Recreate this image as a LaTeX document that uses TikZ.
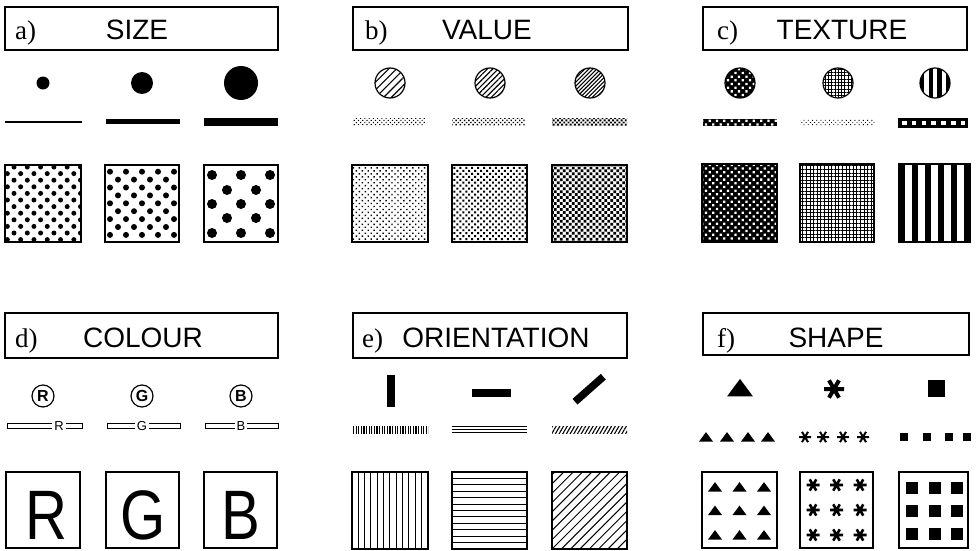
\documentclass[tikz,border=0pt]{standalone}
\usepackage{fontspec}
\setmainfont{Liberation Serif}
\setsansfont{Liberation Sans}
\newfontfamily\narrowsans{Liberation Sans}[FakeStretch=0.83]
\usetikzlibrary{patterns.meta}

\begin{document}
\begin{tikzpicture}[x=1pt, y=-1pt,
  headbox/.style={draw, line width=1.3pt, inner sep=0pt, minimum height=43pt},
  tag/.style={anchor=base west, inner sep=0pt, font=\fontsize{27}{30}\selectfont},
  headline/.style={anchor=base, inner sep=0pt, font=\sffamily\fontsize{28}{30}\selectfont},
  frame/.style={line width=1.5pt},
  ring/.style={line width=1.2pt},
  ringletter/.style={draw, circle, ring, minimum size=22pt, inner sep=0pt,
    font=\sffamily\bfseries\fontsize{16}{16}\selectfont},
  keyletter/.style={fill=white, inner xsep=2pt, inner ysep=0pt,
    font=\sffamily\fontsize{13}{13}\selectfont},
  bigletter/.style={anchor=base, inner sep=0pt, text height=52pt, text depth=0pt,
    font=\narrowsans\fontsize{70}{70}\selectfont},
  tri/.pic={\fill (-#1,0.65*#1) -- (#1,0.65*#1) -- (0,-0.7*#1) -- cycle;},
  asterisk/.pic={\draw (0:#1) -- (180:#1) (60:#1) -- (240:#1) (120:#1) -- (300:#1);},
  blob/.pic={\fill (-#1,-#1) rectangle (#1,#1);}
]
\useasboundingbox (0,0) rectangle (979,551);

% a) size
\begin{scope}[shift={(5,0)}]
  \node[headbox, minimum width=273pt] (sizebox) at (136.5,28.5) {};
  \node[tag] (sizetag) at (10,40) {a)};
  \node[headline] (sizehead) at (132,40) {SIZE};

  % Points and lines
  \fill (38,83) circle (6.5);
  \fill (137,83) circle (11);
  \fill (236,83) circle (17);
  \fill (0,120.5) rectangle (77,123);
  \fill (101,119) rectangle (175,124);
  \fill (199,117.5) rectangle (273,126);

  % Dot screens
  \begin{scope}
    \clip (0,165) rectangle (76,242);
    \foreach \j [evaluate=\j as \dx using {9-6.65*mod(\j,2)}] in {0,...,11}
      \foreach \i in {-1,...,5}
        \fill (\dx+13.3*\i,167+6.6*\j) circle (2.5);
  \end{scope}
  \foreach \x in {105,121,...,169}
    \foreach \y in {171.7,187.5,...,235}
      \fill (\x,\y) circle (3);
  \foreach \x in {113,129,145,161}
    \foreach \y in {179.6,195.4,211.2,227}
      \fill (\x,\y) circle (3);
  \foreach \x in {207,236,265}
    \foreach \y in {175,204,233}
      \fill (\x,\y) circle (5);
  \foreach \x in {222,251}
    \foreach \y in {190,218}
      \fill (\x,\y) circle (5);
  \draw[frame] (0,165) rectangle (76,242);
  \draw[frame] (100,165) rectangle (174,242);
  \draw[frame] (199,165) rectangle (273,242);
\end{scope}

% b) value
\begin{scope}[shift={(352,0)}]
  \node[headbox, minimum width=275pt] (valuebox) at (138.5,28.5) {};
  \node[tag] (valuetag) at (13,40) {b)};
  \node[headline] (valuehead) at (135,40) {VALUE};

  % Hatched points
  \fill[pattern={Lines[angle=45,distance=5.5pt,line width=1.1pt]}] (38,83) circle (15);
  \fill[pattern={Lines[angle=45,distance=3.8pt,line width=1.1pt]}] (138,83) circle (15);
  \fill[pattern={Lines[angle=45,distance=2.8pt,line width=1.1pt]}] (238,83) circle (15);
  \draw[ring] (38,83) circle (15);
  \draw[ring] (138,83) circle (15);
  \draw[ring] (238,83) circle (15);

  % Screened lines
  \fill[pattern={Dots[angle=45,distance=3pt,radius=0.8pt]}] (1,118.5) rectangle (73,125.5);
  \fill[pattern={Dots[angle=45,distance=3pt,radius=1pt]}] (100,118.5) rectangle (173,125.5);
  \fill[pattern={Dots[angle=45,distance=3pt,radius=1.35pt]}] (200,118.5) rectangle (275,125.5);

  % Screened areas
  \fill[pattern={Dots[angle=45,distance=4.2pt,radius=1pt]}] (0,165) rectangle (76,242);
  \fill[pattern={Dots[angle=45,distance=4.2pt,radius=1.4pt]}] (100,165) rectangle (175,242);
  \fill[pattern={Dots[angle=45,distance=4.2pt,radius=1.95pt]}] (200,165) rectangle (275,242);
  \draw[frame] (0,165) rectangle (76,242);
  \draw[frame] (100,165) rectangle (175,242);
  \draw[frame] (200,165) rectangle (275,242);
\end{scope}

% c) texture
\begin{scope}[shift={(702,0)}]
  \node[headbox, minimum width=264pt] (texturebox) at (133,28.5) {};
  \node[tag] (texturetag) at (15,40) {c)};
  \node[headline] (texturehead) at (140,40) {TEXTURE};

  % Textured points
  \fill (38,83) circle (15);
  \fill[pattern={Dots[angle=45,distance=5.2pt,radius=1.6pt]}, pattern color=white] (38,83) circle (15);
  \fill[pattern={Lines[angle=0,distance=3.3pt,line width=0.7pt]}] (136,83) circle (15);
  \fill[pattern={Lines[angle=90,distance=3.3pt,line width=0.7pt]}] (136,83) circle (15);
  \begin{scope}
    \clip (233,83) circle (15);
    \foreach \k in {0,2,4,6}
      \fill (218+4.3*\k,66) rectangle ++(4.3,34);
  \end{scope}
  \draw[ring] (38,83) circle (15);
  \draw[ring] (136,83) circle (15);
  \draw[ring] (233,83) circle (15);

  % Textured lines
  \fill (1,119) rectangle (75,126);
  \fill[pattern={Dots[angle=45,distance=5.2pt,radius=1.6pt]}, pattern color=white] (1,119) rectangle (75,126);
  \fill[pattern={Dots[angle=45,distance=3pt,radius=0.6pt]}] (98,119.5) rectangle (173,125.5);
  \fill (196,117.5) rectangle (266,127.5);
  \foreach \k in {0,...,6}
    \fill[white] (200+9.8*\k,120.5) rectangle ++(4.5,4);

  % Textured areas
  \fill (0,164) rectangle (75,242);
  \fill[pattern={Dots[angle=45,distance=5.2pt,radius=1.6pt]}, pattern color=white] (0,164) rectangle (75,242);
  \fill[pattern={Lines[angle=0,distance=3.6pt,line width=0.7pt]}] (98,164) rectangle (172,242);
  \fill[pattern={Lines[angle=90,distance=3.6pt,line width=0.7pt]}] (98,164) rectangle (172,242);
  \foreach \k in {0,2,...,10}
    \fill (197+6.45*\k,164) rectangle ++(6.45,78);
  \draw[frame] (0,164) rectangle (75,242);
  \draw[frame] (98,164) rectangle (172,242);
  \draw[frame] (197,164) rectangle (268,242);
\end{scope}

% d) colour
\begin{scope}[shift={(5,306)}]
  \node[headbox, minimum width=273pt, minimum height=45pt] (colourbox) at (136.5,29.5) {};
  \node[tag] (colourtag) at (10,41) {d)};
  \node[headline] (colourhead) at (138,41) {COLOUR};

  % Circled letters
  \node[ringletter] (redpt) at (38,90) {R};
  \node[ringletter] (greenpt) at (137,90) {G};
  \node[ringletter] (bluept) at (236,90) {B};

  % Lettered lines
  \draw[line width=1pt] (2,117.5) rectangle (77,122);
  \draw[line width=1pt] (102,117.5) rectangle (175,122);
  \draw[line width=1pt] (200,117.5) rectangle (273,122);
  \node[keyletter] (redln) at (54,119.8) {R};
  \node[keyletter] (greenln) at (137,119.8) {G};
  \node[keyletter] (blueln) at (236,119.8) {B};

  % Lettered areas
  \draw[frame] (1,166) rectangle (75,242);
  \draw[frame] (101,166) rectangle (174,242);
  \draw[frame] (199,166) rectangle (272,242);
  \node[bigletter] (redar) at (41.7,233) {R};
  \node[bigletter] (greenar) at (138,233) {G};
  \node[bigletter] (bluear) at (236,233) {B};
\end{scope}

% e) orientation
\begin{scope}[shift={(352,306)}]
  \node[headbox, minimum width=274pt, minimum height=45pt] (orientbox) at (138,29.5) {};
  \node[tag] (orienttag) at (10,41) {e)};
  \node[headline] (orienthead) at (144,41) {ORIENTATION};

  % Oriented bars
  \draw[line width=8pt] (39,69) -- (39,101);
  \draw[line width=8pt] (120,86.5) -- (159,86.5);
  \draw[line width=7.5pt] (223,95.7) -- (251.3,70.7);

  % Oriented lines
  \fill[pattern={Lines[angle=90,distance=2.6pt,line width=1.1pt]}] (1,120) rectangle (76,127);
  \draw[line width=0.9pt] (100,120) -- (175,120);
  \draw[line width=0.9pt] (100,123.4) -- (175,123.4);
  \draw[line width=0.9pt] (100,126.8) -- (175,126.8);
  \fill[pattern={Lines[angle=60,distance=3.2pt,line width=1.1pt]}] (200,120) rectangle (275,127);

  % Oriented areas
  \foreach \x in {6.3,12.6,...,70}
    \draw[line width=1pt] (\x,166) -- (\x,243);
  \foreach \y in {172.4,178.8,...,238}
    \draw[line width=1pt] (100,\y) -- (175,\y);
  \begin{scope}
    \clip (200,166) rectangle (275,243);
    \foreach \k in {-8,...,8}
      \draw[line width=1pt] (200+9.3*\k,243) -- ++(80,-80);
  \end{scope}
  \draw[frame] (0,166) rectangle (76,243);
  \draw[frame] (100,166) rectangle (175,243);
  \draw[frame] (200,166) rectangle (275,243);
\end{scope}

% f) shape
\begin{scope}[shift={(702,306)}]
  \node[headbox, minimum width=266pt, minimum height=42pt] (shapebox) at (134,28) {};
  \node[tag] (shapetag) at (15,41) {f)};
  \node[headline] (shapehead) at (134,41) {SHAPE};

  % Shaped points
  \pic at (38,82) {tri=13};
  \pic[line width=4pt] at (132,83) {asterisk=10};
  \pic at (234,82.5) {blob=8.5};

  % Shaped lines
  \foreach \x in {4,25,46,66}
    \pic at (\x,131) {tri=7};
  \foreach \x in {103,121,141,161}
    \pic[line width=2pt] at (\x,131) {asterisk=6};
  \foreach \x in {202,225,247,265}
    \pic at (\x,131) {blob=4};

  % Shaped areas
  \foreach \x in {13,37.5,62}
    \foreach \y in {181,204.5,229}
      \pic at (\x,\y) {tri=7};
  \foreach \x in {111,134.5,158}
    \foreach \y in {179,204,229}
      \pic[line width=2.6pt] at (\x,\y) {asterisk=6.5};
  \foreach \x in {210,232.5,255}
    \foreach \y in {182,205,228}
      \pic at (\x,\y) {blob=6};
  \draw[frame] (0,166) rectangle (75,242);
  \draw[frame] (98,166) rectangle (171,242);
  \draw[frame] (197,166) rectangle (266,242);
\end{scope}

\end{tikzpicture}
\end{document}
